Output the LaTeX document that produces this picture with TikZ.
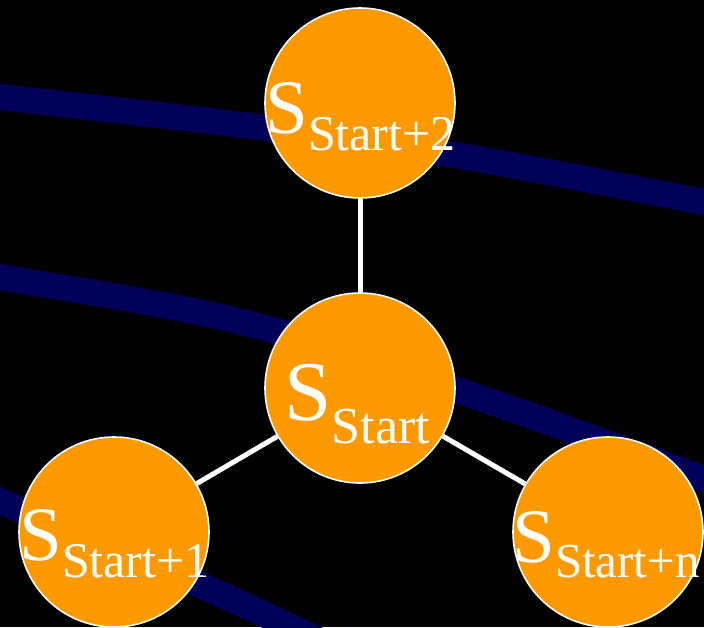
\documentclass[tikz,border=0pt]{standalone}
\usepackage{fontspec}
\setmainfont{Liberation Serif}
\newfontfamily\labelfont{Liberation Serif}
\definecolor{navyband}{RGB}{0,0,88}
\definecolor{stateorange}{RGB}{255,153,0}
\tikzset{
  band/.style={draw=navyband, line width=26pt},
  statecircle/.style={circle, fill=stateorange, draw=white, line width=1.6pt,
    minimum size=190pt, inner sep=0pt},
  link/.style={draw=white, line width=5pt},
  statelabel/.style={anchor=base west, inner sep=0pt, text=white, font=\labelfont},
}
% state name: large S with a lowered subscript
\newcommand{\statename}[4]{%
  \fontsize{#1}{#1}\selectfont S\raisebox{-#3pt}{\fontsize{#2}{#2}\selectfont #4}}
\begin{document}
\begin{tikzpicture}[x=1pt, y=-1pt]
  \fill[black] (0,0) rectangle (704,627);
  \useasboundingbox (0,0) rectangle (704,627);

  % background orbit bands
  \begin{scope}
    \clip (0,0) rectangle (704,627);
    \draw[band] plot[smooth, tension=0.6] coordinates
      {(-20,94.7) (0,97) (267,128) (455,155) (704,202) (730,207)};
    \draw[band] plot[smooth, tension=0.6] coordinates
      {(-20,274) (0,277) (250,324) (500,405) (704,479) (730,489)};
    \draw[band] plot[smooth, tension=0.6] coordinates
      {(-20,492) (0,501) (200,585) (320,641) (340,651)};
  \end{scope}

  % states
  \node[statecircle] (top)   at (360,103) {};
  \node[statecircle] (ctr)   at (360,388) {};
  \node[statecircle] (left)  at (114,532) {};
  \node[statecircle] (right) at (608,532) {};

  % transitions
  \draw[link] (ctr) -- (top);
  \draw[link] (ctr) -- (left);
  \draw[link] (ctr) -- (right);

  % labels
  \node[statelabel] (toplbl)   at (265,133)   {\statename{77}{50}{17}{Start+2}};
  \node[statelabel] (ctrlbl)   at (284.5,420) {\statename{85}{52}{23}{Start}};
  \node[statelabel] (leftlbl)  at (19,560)    {\statename{77}{50}{17}{Start+1}};
  \node[statelabel] (rightlbl) at (512,562)   {\statename{77}{49}{15}{Start+n}};
\end{tikzpicture}
\end{document}
